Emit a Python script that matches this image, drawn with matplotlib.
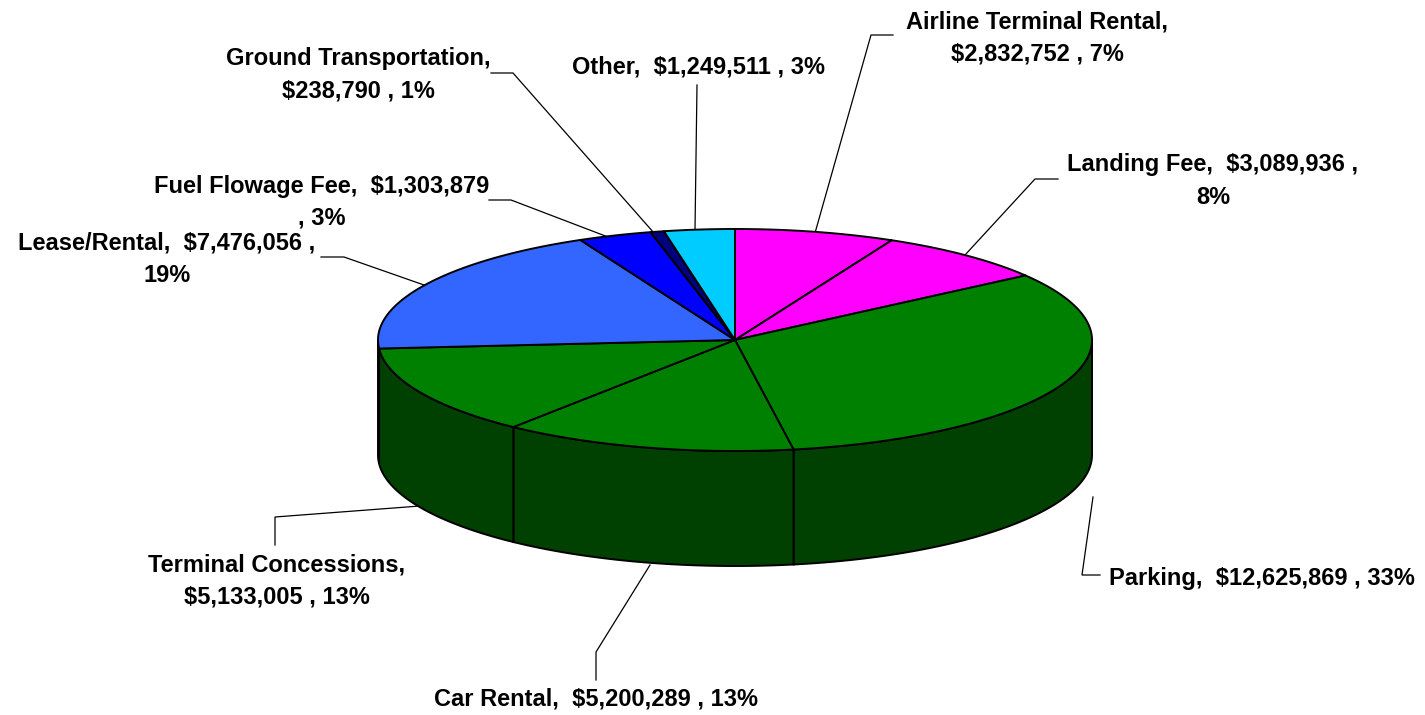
import numpy as np
import matplotlib
matplotlib.use("Agg")
import matplotlib.pyplot as plt
from matplotlib.patches import Polygon

categories = ["Airline Terminal Rental", "Landing Fee", "Parking", "Car Rental",
              "Terminal Concessions", "Lease/Rental", "Fuel Flowage Fee",
              "Ground Transportation", "Other"]
values = [2832752, 3089936, 12625869, 5200289, 5133005, 7476056, 1303879, 238790, 1249511]
percents = [7, 8, 33, 13, 13, 19, 3, 1, 3]
top_colors = ["#FF00FF", "#FF00FF", "#008000", "#008000", "#008000", "#3366FF", "#0000FF", "#000080", "#00CCFF"]
side_color = "#004000"

CX, CY, RX, RY, DEPTH = 735, 340, 357, 111, 115
plt.rcParams['font.family'] = ['Liberation Sans', 'DejaVu Sans']
fig = plt.figure(figsize=(14.25, 7.15), dpi=100)
ax = fig.add_axes([0, 0, 1, 1])
ax.set_xlim(0, 1425)
ax.set_ylim(715, 0)
ax.axis("off")

def rim(t):
    return CX + RX * np.sin(t), CY - RY * np.cos(t)

fr = np.cumsum([0] + values) / np.sum(values) * 2 * np.pi

# side wall, visible part only (right edge to left edge)
for a, b in zip(fr[:-1], fr[1:]):
    lo, hi = max(a, np.pi / 2), min(b, 3 * np.pi / 2)
    if hi <= lo:
        continue
    t = np.linspace(lo, hi, 100)
    x, y = rim(t)
    pts = np.r_[np.c_[x, y], np.c_[x[::-1], y[::-1] + DEPTH]]
    ax.add_patch(Polygon(pts, closed=True, fc=side_color, ec="black", lw=1.4, zorder=2))

# top face
for a, b, c in zip(fr[:-1], fr[1:], top_colors):
    t = np.linspace(a, b, 200)
    x, y = rim(t)
    pts = np.r_[[[CX, CY]], np.c_[x, y]]
    ax.add_patch(Polygon(pts, closed=True, fc=c, ec="black", lw=1.4, zorder=3, joinstyle="round"))

def money(i):
    return f"${values[i]:,} , {percents[i]}%"

labels = [
    (1037, 38, f"{categories[0]},\n{money(0)}", [(815, 233), (871, 35), (893, 35)]),
    (1213, 181, f"{categories[1]},  ${values[1]:,} ,\n{percents[1]}%", [(965, 255), (1035, 179), (1058, 179)]),
    (1262, 578, f"{categories[2]},  {money(2)}", [(1093, 497), (1082, 575), (1100, 575)]),
    (596, 699, f"{categories[3]},  {money(3)}", [(650, 565), (596, 652), (596, 680)]),
    (277, 581, f"{categories[4]},\n{money(4)}", [(420, 506), (275, 517), (275, 545)]),
    (167, 259, f"{categories[5]},  ${values[5]:,} ,\n{percents[5]}%", [(424, 285), (344, 257), (321, 257)]),
    (322, 202, f"{categories[6]},  ${values[6]:,}\n, {percents[6]}%", [(608, 237), (511, 200), (489, 200)]),
    (358, 75, f"{categories[7]},\n{money(7)}", [(654, 233), (513, 73), (491, 73)]),
    (699, 67, f"{categories[8]},  {money(8)}", [(695, 230), (697, 85)]),
]
for x, y, s, line in labels:
    ax.plot(*zip(*line), color="black", lw=0.9, zorder=1, solid_joinstyle="miter")
    ax.text(x, y, s, ha="center", va="center", fontsize=17, fontweight="bold",
            color="black", linespacing=1.5, zorder=5)

fig.savefig("out.png", dpi=100, facecolor="white")
